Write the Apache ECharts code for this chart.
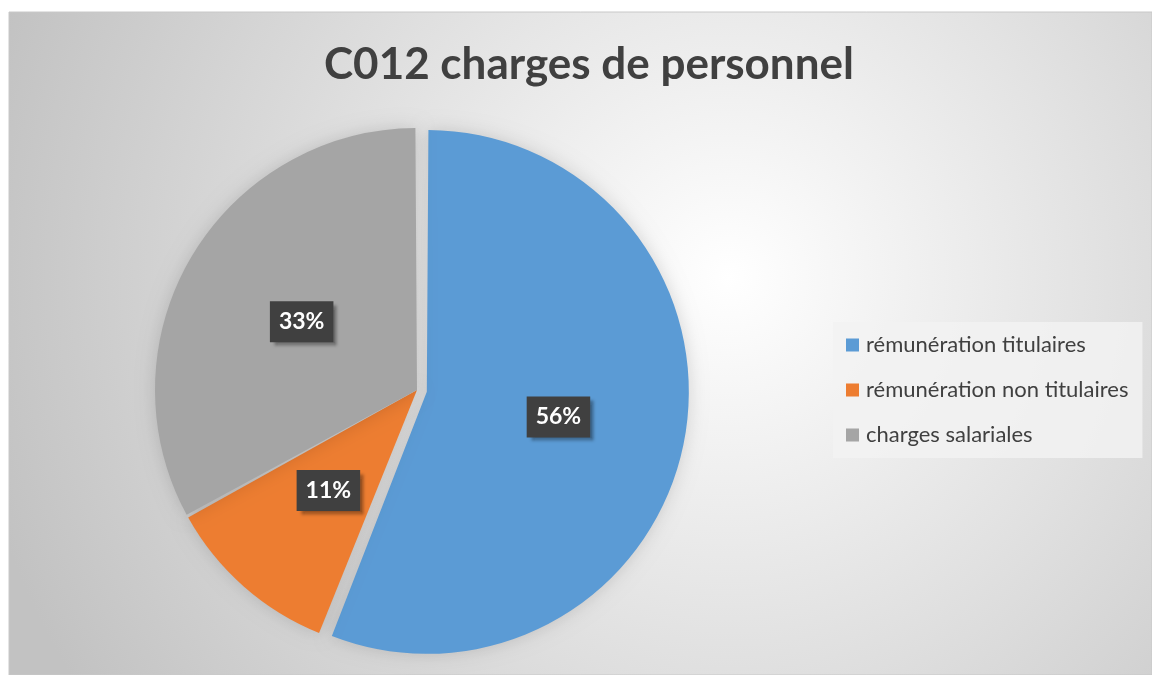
<!DOCTYPE html>
<html>
<head>
<meta charset="utf-8">
<script src="https://cdn.jsdelivr.net/npm/echarts@6/dist/echarts.min.js"></script>
<style>
  html, body { margin: 0; padding: 0; background: #fff; }
  #chart { width: 1152px; height: 675px; }
</style>
</head>
<body>
<div id="chart"></div>
<script>
const titleText = 'C012 charges de personnel';
const categories = ['rémunération titulaires', 'rémunération non titulaires', 'charges salariales'];
const values = [56, 11, 33];
const colors = ['#5b9bd5', '#ed7d31', '#a5a5a5'];

const chart = echarts.init(document.getElementById('chart'));

// tranche bleue détachée comme dans Excel
const pieData = categories.map((name, i) => ({
    name: name,
    value: values[i],
    selected: i === 0,
    itemStyle: { color: colors[i] }
}));

const option = {
    animation: false,
    graphic: [{
        type: 'rect',
        z: -10,
        shape: { x: 9, y: 12, width: 1143, height: 663 },
        style: {
            fill: {
                type: 'radial', x: 0.63, y: 0.4, r: 1.16,
                colorStops: [
                    { offset: 0, color: '#ffffff' },
                    { offset: 1, color: '#c2c2c2' }
                ]
            },
            stroke: '#c8c8c8',
            lineWidth: 1
        }
    }],
    title: {
        text: titleText,
        left: 319,
        top: 38,
        textStyle: {
            fontFamily: 'Lato',
            fontWeight: 'bold',
            fontSize: 44,
            color: '#404040'
        }
    },
    legend: {
        orient: 'vertical',
        left: 833,
        top: 322,
        padding: [12, 14, 12, 13],
        backgroundColor: 'rgba(242,242,242,0.85)',
        itemWidth: 13,
        itemHeight: 13,
        itemGap: 23,
        icon: 'rect',
        selectedMode: false,
        textStyle: {
            fontFamily: 'Lato',
            fontSize: 22,
            lineHeight: 22,
            color: '#404040',
            padding: [0, 0, 0, 2]
        },
        data: categories
    },
    series: [{
        type: 'pie',
        center: [417, 390],
        radius: 262,
        startAngle: 90,
        clockwise: true,
        selectedMode: 'single',
        selectedOffset: 10,
        padAngle: 0.7,
        itemStyle: {
            shadowBlur: 18,
            shadowColor: 'rgba(0,0,0,0.15)'
        },
        emphasis: { disabled: true },
        label: {
            position: 'inside',
            formatter: p => Math.round(p.percent) + '%',
            fontFamily: 'Lato',
            fontWeight: 'bold',
            fontSize: 23,
            color: '#ffffff',
            backgroundColor: '#404040',
            padding: [10, 9, 8, 9],
            shadowColor: 'rgba(0,0,0,0.35)',
            shadowBlur: 3,
            shadowOffsetX: 4,
            shadowOffsetY: 4
        },
        labelLine: { show: false },
        data: pieData
    }]
};

chart.setOption(option);
</script>
</body>
</html>
